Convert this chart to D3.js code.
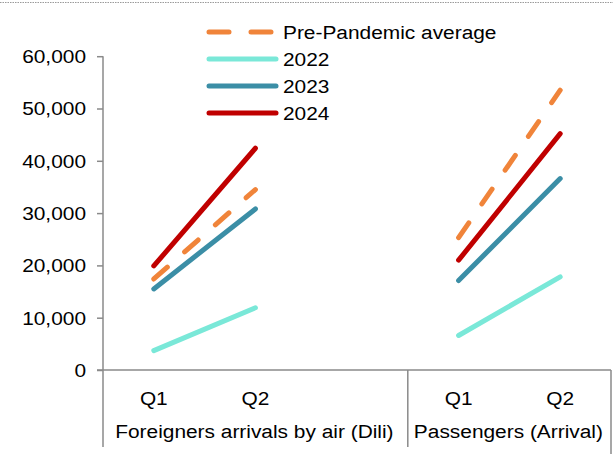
<!DOCTYPE html>
<html>
<head>
<meta charset="utf-8">
<script src="https://cdn.jsdelivr.net/npm/d3@7"></script>
<style>
  html, body { margin: 0; padding: 0; background: #fff; }
  svg { display: block; }
  text { font-family: "Liberation Sans", Arial, sans-serif; fill: #000; }
</style>
</head>
<body>
<svg id="chart" width="613" height="454"></svg>
<script>
// Quarterly arrivals, split into two category groups with an empty slot between them
const groups = ["Foreigners arrivals by air (Dili)", "Passengers (Arrival)"];
const quarters = ["Q1", "Q2"];
const slots = ["g1-Q1", "g1-Q2", "g1-gap", "g2-Q1", "g2-Q2"];
const slotLabels = ["Q1", "Q2", "", "Q1", "Q2"];

const seriesNames = ["Pre-Pandemic average", "2022", "2023", "2024"];
const prePandemic = [17400, 34500, null, 25300, 53500];
const y2022 = [3700, 11900, null, 6600, 17800];
const y2023 = [15500, 30800, null, 17100, 36600];
const y2024 = [19900, 42400, null, 21000, 45200];

const yTicks = [0, 10000, 20000, 30000, 40000, 50000, 60000];

const colors = ["#F0843A", "#7AE8D8", "#3B8EA6", "#C00000"];
const dashes = ["18,23", null, null, null];
const seriesValues = [prePandemic, y2022, y2023, y2024];

const svg = d3.select("#chart");
const STRETCH = 1.16;
const FONT = 18;
const axisColor = "#8a8a8a";

// widen glyphs horizontally around each label's anchor point
function widen(sel) {
  sel.each(function () {
    const t = d3.select(this);
    const tx = +t.attr("x") || 0, ty = +t.attr("y") || 0;
    t.attr("x", 0).attr("y", 0)
      .attr("transform", `translate(${tx},${ty}) scale(${STRETCH},1)`);
  });
  return sel;
}

const left = 103, right = 611, zeroY = 370, topY = 56.2;
const x = d3.scaleBand().domain(slots).range([left, right]).padding(0);
const y = d3.scaleLinear().domain([0, 60000]).range([zeroY, topY]);
const cx = s => x(s) + x.bandwidth() / 2;

// dotted frame line along the top edge
svg.append("line")
  .attr("x1", 0).attr("x2", 613).attr("y1", 2.5).attr("y2", 2.5)
  .attr("stroke", "#9a9a9a").attr("stroke-width", 1).attr("stroke-dasharray", "1.5,1");

// y axis
const yAxis = d3.axisLeft(y).tickValues(yTicks).tickSize(6).tickPadding(0)
  .tickFormat(d3.format(","));
const gy = svg.append("g").attr("transform", `translate(${left},0)`).call(yAxis);
gy.select(".domain").remove();
gy.selectAll(".tick line").attr("stroke", axisColor).attr("stroke-width", 1.5);
gy.selectAll(".tick text").attr("font-size", FONT).attr("fill", "#000")
  .attr("x", -17).attr("dy", null).attr("y", 6.4)
  .style("font-family", '"Liberation Sans", Arial, sans-serif');
widen(gy.selectAll(".tick text"));

// axis frame lines: vertical axis, baseline, group divider, right edge
const frame = svg.append("g").attr("stroke", axisColor).attr("stroke-width", 1.5);
frame.append("line").attr("x1", left).attr("x2", left).attr("y1", topY).attr("y2", 447);
frame.append("line").attr("x1", left - 6).attr("x2", right).attr("y1", zeroY).attr("y2", zeroY);
frame.append("line").attr("x1", x("g2-Q1")).attr("x2", x("g2-Q1")).attr("y1", zeroY).attr("y2", 447);
frame.append("line").attr("x1", right).attr("x2", right).attr("y1", zeroY).attr("y2", 454);

// quarter labels
const ql = svg.append("g").selectAll("text")
  .data(slots.filter((s, i) => slotLabels[i]))
  .join("text")
  .attr("x", d => cx(d)).attr("y", 405)
  .attr("text-anchor", "middle").attr("font-size", FONT)
  .text(d => slotLabels[slots.indexOf(d)]);
widen(ql);

// group labels
const groupSpans = [[x("g1-Q1"), x("g2-Q1")], [x("g2-Q1"), right]];
const gl = svg.append("g").selectAll("text")
  .data(groups)
  .join("text")
  .attr("x", (d, i) => (groupSpans[i][0] + groupSpans[i][1]) / 2 - 1).attr("y", 438)
  .attr("text-anchor", "middle").attr("font-size", FONT)
  .text(d => d);
widen(gl);

// series lines
const line = d3.line()
  .defined(d => d.v != null)
  .x(d => cx(d.s))
  .y(d => y(d.v));

const drawOrder = [1, 2, 3, 0];
drawOrder.forEach(k => {
  const pts = slots.map((s, i) => ({ s, v: seriesValues[k][i] }));
  svg.append("path")
    .attr("d", line(pts))
    .attr("fill", "none")
    .attr("stroke", colors[k])
    .attr("stroke-width", 5)
    .attr("stroke-linecap", "round")
    .attr("stroke-dasharray", dashes[k]);
});

// legend
const legend = svg.append("g");
const legY = [32, 59, 86, 113];
seriesNames.forEach((name, k) => {
  legend.append("line")
    .attr("x1", 209).attr("x2", 276).attr("y1", legY[k]).attr("y2", legY[k])
    .attr("stroke", colors[k]).attr("stroke-width", 5)
    .attr("stroke-linecap", "round")
    .attr("stroke-dasharray", k === 0 ? "20,22" : null);
  const t = legend.append("text")
    .attr("x", 283).attr("y", legY[k] + 6.5)
    .attr("font-size", FONT).text(name);
  widen(t);
});
</script>
</body>
</html>
